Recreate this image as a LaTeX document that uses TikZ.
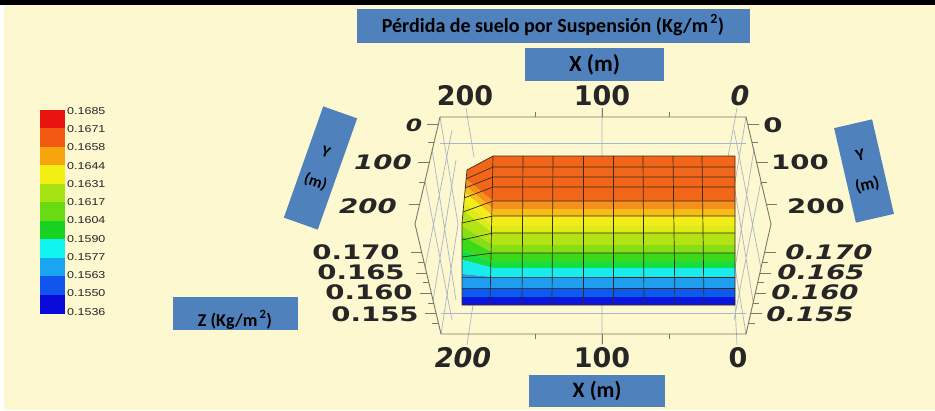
\documentclass[tikz,border=0pt]{standalone}
\usepackage{fontspec}
\usepackage{graphicx}
\setmainfont{Carlito}
\newfontfamily\numfont{DejaVu Sans}
\newfontfamily\barfont{Liberation Sans}
\usetikzlibrary{calc}

\definecolor{cream}{HTML}{FDF8CF}
\definecolor{boxblue}{HTML}{4F81BD}
\definecolor{wire}{HTML}{7D7865}
\definecolor{wirelight}{HTML}{A9B5C8}
\definecolor{mesh}{HTML}{3B2A1C}
\definecolor{numgray}{HTML}{262626}

\definecolor{cbA}{HTML}{E8140F}
\definecolor{cbB}{HTML}{F25A12}
\definecolor{cbC}{HTML}{F7A50F}
\definecolor{cbD}{HTML}{F2F012}
\definecolor{cbE}{HTML}{A6E312}
\definecolor{cbF}{HTML}{6ADB12}
\definecolor{cbG}{HTML}{18D222}
\definecolor{cbH}{HTML}{10F5F0}
\definecolor{cbI}{HTML}{1AA5F0}
\definecolor{cbJ}{HTML}{0F55EE}
\definecolor{cbK}{HTML}{0A0AD8}

\definecolor{sfA}{HTML}{F2661A}
\definecolor{sfB}{HTML}{F5901A}
\definecolor{sfC}{HTML}{F7BC1C}
\definecolor{sfD}{HTML}{F1EC1A}
\definecolor{sfE}{HTML}{DDEB18}
\definecolor{sfF}{HTML}{B3E315}
\definecolor{sfG}{HTML}{86DE14}
\definecolor{sfH}{HTML}{3AD91A}
\definecolor{sfI}{HTML}{15DE45}
\definecolor{sfJ}{HTML}{18ECEC}
\definecolor{sfK}{HTML}{1F9EF0}
\definecolor{sfL}{HTML}{0B5BEF}
\definecolor{sfM}{HTML}{0A16DA}

\newcommand\widenum[1]{\scalebox{1.38}[1]{#1}}
\newcommand\widebar[1]{\scalebox{1.25}[1]{#1}}
\newcommand\sqsup{\textsuperscript{\,\raisebox{1.5pt}{2}}}

\begin{document}
\begin{tikzpicture}[x=1pt, y=-1pt,
    bluebox/.style={fill=boxblue, inner sep=0pt, align=center},
    xnum/.style={inner sep=0pt, text=numgray, font=\numfont\bfseries\fontsize{27}{27}\selectfont},
    ynum/.style={inner sep=0pt, text=numgray, font=\numfont\bfseries\fontsize{20}{20}\selectfont},
    barlab/.style={inner sep=0pt, anchor=west, text=numgray, font=\barfont\fontsize{10}{10}\selectfont},
    wireline/.style={wire, line width=0.9pt},
    thinwire/.style={wirelight, line width=0.7pt},
    meshline/.style={mesh, line width=0.7pt}]

    \fill[white] (0,0) rectangle (935,410);
    \fill[cream] (4,5) rectangle (935,410);
    \fill[black] (0,0) rectangle (935,5);
    \useasboundingbox (0,0) rectangle (935,410);

    % colour bar
    \foreach \c [count=\i from 0] in {cbA,cbB,cbC,cbD,cbE,cbF,cbG,cbH,cbI,cbJ,cbK}
        \fill[\c] (40,{109.5+18.55*\i}) rectangle (65,{109.5+18.55*(\i+1)});
    \foreach \v [count=\i from 0] in {0.1685,0.1671,0.1658,0.1644,0.1631,0.1617,0.1604,0.1590,0.1577,0.1563,0.1550,0.1536}
        \node[barlab] (cb\i) at (67,{111+18.25*\i}) {\widebar{\v}};

    % box frame
    \coordinate (tl) at (440,117);
    \coordinate (tr) at (746,117);
    \coordinate (bl) at (441,334);
    \coordinate (br) at (746,334);
    \coordinate (lm) at (415,224);
    \coordinate (rm) at (771,224);
    \coordinate (li) at (458,224);
    \coordinate (ri) at (728,224);

    \draw[thinwire] (440,143) -- (746,143) (441,313) -- (746,313);
    \draw[thinwire] (tl) -- (li) -- (bl) (tr) -- (ri) -- (br);
    \draw[thinwire] (432,149) -- (456,300) (425,181) -- (452,320) (425,268) -- (452,130) (433,301) -- (456,160);
    \draw[thinwire] (754,149) -- (730,300) (761,181) -- (734,320) (761,268) -- (734,130) (753,301) -- (730,160);
    \draw[thinwire] (466,108) -- (474,157) (602,108) -- (602,157) (737,108) -- (728,157);
    \draw[thinwire] (473,305) -- (467,345) (602,305) -- (602,345) (735,305) -- (737,345);

    \draw[wireline] (tl) -- (tr) (bl) -- (br) (tl) -- (lm) -- (bl) (tr) -- (rm) -- (br);
    \draw[wireline] (535,117) -- (535,112) (669,117) -- (669,112) (602,117) -- (602,108);
    \draw[wireline] (535,334) -- (535,339) (669,334) -- (669,339) (602,334) -- (602,344);

    \foreach \y/\l in {124/11,142/6,162/11,182/6,204/11} {
        \draw[wireline] ($(tl)!{(\y-117)/107}!(lm)$) -- ++(-\l,0);
        \draw[wireline] ($(tr)!{(\y-117)/107}!(rm)$) -- ++(\l,0);
    }
    \foreach \y/\l in {252/11,262/6,273/11,282/6,293/11,303/6,313/11,323/6} {
        \draw[wireline] ($(lm)!{(\y-224)/110}!(bl)$) -- ++(-\l,0);
        \draw[wireline] ($(rm)!{(\y-224)/110}!(br)$) -- ++(\l,0);
    }

    % surface
    \begin{scope}
        \clip (467,170) -- (493,156) -- (735,156) -- (735,305) -- (462,305) -- (462,223) -- cycle;
        \foreach \ta/\tb/\la/\lb/\c in {150/201/140/176/sfA, 201/209/176/183/sfB, 209/216/183/190/sfC,
            216/226/190/202/sfD, 226/233/202/210/sfE, 233/245/210/226/sfF, 245/253/226/236/sfG,
            253/262/236/250/sfH, 262/268/250/260/sfI, 268/277/260/274/sfJ, 277/288/274/288/sfK,
            288/297/288/297/sfL, 297/310/297/310/sfM}
            \fill[\c] (462,\la) -- (493,\ta) -- (740,\ta) -- (740,\tb) -- (493,\tb) -- (462,\lb) -- cycle;
    \end{scope}
    \foreach \lx/\ly/\ry in {467/170/156, 466/179/167, 465/188/177, 464/198/187, 463/212/201,
        462/223/216, 462/240/233, 462/257/253, 462/277/277, 462/288/288}
        \draw[meshline] (\lx,\ly) -- (493,\ry) -- (735,\ry);
    \foreach \ax/\bx in {493/490, 523/522, 553/552, 583/583, 613/613, 643/644, 673/675, 702/704}
        \draw[meshline] (\ax,156) -- (\bx,305);
    \draw[meshline] (467,170) -- (462,223) -- (462,305) -- (735,305) -- (735,156);

    % axis numbers
    \node[xnum] (xt200) at (465,96) {200};
    \node[xnum] (xt100) at (602,96) {100};
    \node[xnum, font=\numfont\bfseries\itshape\fontsize{27}{27}\selectfont] (xt0) at (740,96) {0};
    \node[xnum, font=\numfont\bfseries\itshape\fontsize{27}{27}\selectfont] (xb200) at (463,358) {200};
    \node[xnum] (xb100) at (602,358) {100};
    \node[xnum] (xb0) at (738,358) {0};

    \node[ynum, font=\numfont\bfseries\itshape\fontsize{17}{17}\selectfont] (yl0) at (414,125) {\widenum{0}};
    \node[ynum, font=\numfont\bfseries\itshape\fontsize{20}{20}\selectfont] (yl100) at (383,162) {\widenum{100}};
    \node[ynum, font=\numfont\bfseries\itshape\fontsize{20}{20}\selectfont] (yl200) at (368,206) {\widenum{200}};
    \node[ynum] (zl170) at (356,252) {\widenum{0.170}};
    \node[ynum] (zl165) at (361,272) {\widenum{0.165}};
    \node[ynum] (zl160) at (369,292) {\widenum{0.160}};
    \node[ynum] (zl155) at (375,314) {\widenum{0.155}};

    \node[ynum] (yr0) at (773,125) {\widenum{0}};
    \node[ynum] (yr100) at (800,162) {\widenum{100}};
    \node[ynum] (yr200) at (816,206) {\widenum{200}};
    \node[ynum, font=\numfont\bfseries\itshape\fontsize{20}{20}\selectfont] (zr170) at (829,252) {\widenum{0.170}};
    \node[ynum, font=\numfont\bfseries\itshape\fontsize{20}{20}\selectfont] (zr165) at (821,272) {\widenum{0.165}};
    \node[ynum, font=\numfont\bfseries\itshape\fontsize{20}{20}\selectfont] (zr160) at (815,292) {\widenum{0.160}};
    \node[ynum, font=\numfont\bfseries\itshape\fontsize{20}{20}\selectfont] (zr155) at (810,314) {\widenum{0.155}};

    % labels
    \node[bluebox, minimum width=393pt, minimum height=34pt, font=\bfseries\fontsize{20}{20}\selectfont] (title) at (553,25.5) {Pérdida de suelo por Suspensión (Kg/m\sqsup)};
    \node[bluebox, minimum width=139pt, minimum height=33pt, font=\bfseries\fontsize{23}{23}\selectfont] (xtop) at (594.5,64.5) {X (m)};
    \node[bluebox, minimum width=136pt, minimum height=32pt, font=\bfseries\fontsize{22}{22}\selectfont] (xbot) at (597,391) {X (m)};
    \node[bluebox, minimum width=125pt, minimum height=33pt] (zbox) at (235.5,313.5) {};
    \node[inner sep=0pt, font=\bfseries\fontsize{18}{18}\selectfont] (zlab) at (235,320) {Z (Kg/m\sqsup)};
    \node[bluebox, minimum width=36pt, minimum height=118pt, rotate=-19.5, font=\bfseries\fontsize{16}{31}\selectfont] (yleft) at (320.5,168) {Y\\(m)};
    \node[bluebox, minimum width=39pt, minimum height=97pt, rotate=13, font=\bfseries\fontsize{17}{31}\selectfont] (yright) at (864,171) {Y\\(m)};

\end{tikzpicture}
\end{document}
